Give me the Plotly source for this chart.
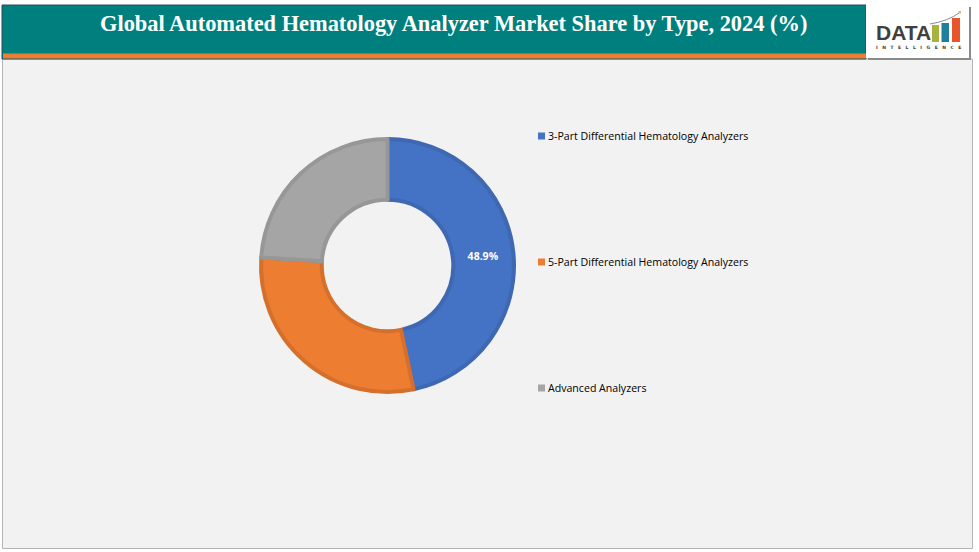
#! python3
"""Donut of automated hematology analyzer market share by type, with report banner"""

import plotly.graph_objects as go

W, H = 979, 552

title = "Global Automated Hematology Analyzer Market Share by Type, 2024 (%)"
categories = [
    "3-Part Differential Hematology Analyzers",
    "5-Part Differential Hematology Analyzers",
    "Advanced Analyzers",
]
# slice sizes as drawn in the picture; only the first slice carries a printed label
shares = [46.7, 29.3, 24.0]
printed_labels = ["<b>48.9%</b>", "", ""]
colors = ["#4472C4", "#ED7D31", "#A5A5A5"]
edge_colors = ["#3F68B2", "#D5702C", "#979797"]
legend_y = [136, 262, 388]


def px(x):
    return x / W


def py(y):
    return 1 - y / H


def box(x0, y0, x1, y1, fill, line=None, width=1):
    return dict(
        type="rect",
        xref="paper",
        yref="paper",
        x0=px(x0),
        x1=px(x1),
        y0=py(y0),
        y1=py(y1),
        fillcolor=fill,
        line=dict(color=line, width=width) if line else dict(width=0),
        layer="below",
    )


def note(text, x, y, family, size, color, xanchor="center"):
    return dict(
        text=text,
        x=px(x),
        y=py(y),
        xref="paper",
        yref="paper",
        xanchor=xanchor,
        yanchor="middle",
        borderpad=0,
        showarrow=False,
        font=dict(family=family, size=size, color=color),
    )


cx, cy, r = 387.5, 265.5, 126.5

fig = go.Figure(
    go.Pie(
        labels=categories,
        values=shares,
        text=printed_labels,
        textinfo="text",
        textposition="inside",
        insidetextorientation="horizontal",
        textfont=dict(family="Open Sans", size=10.5, color="white"),
        hole=0.52,
        sort=False,
        direction="clockwise",
        rotation=0,
        marker=dict(colors=colors, line=dict(color=edge_colors, width=4)),
        domain=dict(x=[px(cx - r), px(cx + r)], y=[py(cy + r), py(cy - r)]),
        showlegend=False,
    )
)

shapes = [
    # page panel
    box(2.5, 59, 972.5, 548.5, "#F2F2F2", "#B4B4B4", 1),
    # banner
    box(2, 5, 866, 59, "#007F7F", "#2F4660", 1),
    box(3, 53.5, 866, 58.5, "#ED7D31"),
    # logo box with its shadow
    box(868, 7, 971, 60, "#8A8A8A"),
    box(866, 5, 969, 58, "#FFFFFF"),
    # logo bars
    box(932, 25, 939, 42, "#A9B23C"),
    box(941.5, 23, 949, 42, "#1F7F9C"),
    box(952, 18, 960, 42, "#E8552B"),
    # logo swoosh
    dict(
        type="path",
        xref="paper",
        yref="paper",
        path=f"M {px(930)} {py(24)} Q {px(948)} {py(21)} {px(959)} {py(13)}",
        line=dict(color="#8C8C8C", width=1),
    ),
    box(958.5, 11, 961, 13.5, "#F0B25A"),
]

logo_small = "\u2003".join("INTELLIGENCE")
annotations = [
    note(f"<b>{title}</b>", 453.5, 24, "Liberation Serif", 22.4, "white"),
    note("<b>DATA</b>", 903.5, 32.5, "Liberation Sans", 21, "#404040"),
    note(f"<b>{logo_small}</b>", 918, 47.5, "DejaVu Sans", 4.5, "#404040"),
]

# legend rows sit far apart in the reference, so they are placed by hand
for name, color, y in zip(categories, colors, legend_y):
    shapes.append(box(538, y - 3.5, 545, y + 3.5, color))
    annotations.append(note(name, 547, y, "Open Sans", 10.6, "#000000", xanchor="left"))

fig.update_layout(
    width=W,
    height=H,
    margin=dict(l=0, r=0, t=0, b=0),
    paper_bgcolor="white",
    plot_bgcolor="white",
    shapes=shapes,
    annotations=annotations,
)

fig.write_html(
    "out.html",
    config=dict(displayModeBar=False),
    post_script="document.body.style.margin='0';document.body.style.overflow='hidden';",
)
